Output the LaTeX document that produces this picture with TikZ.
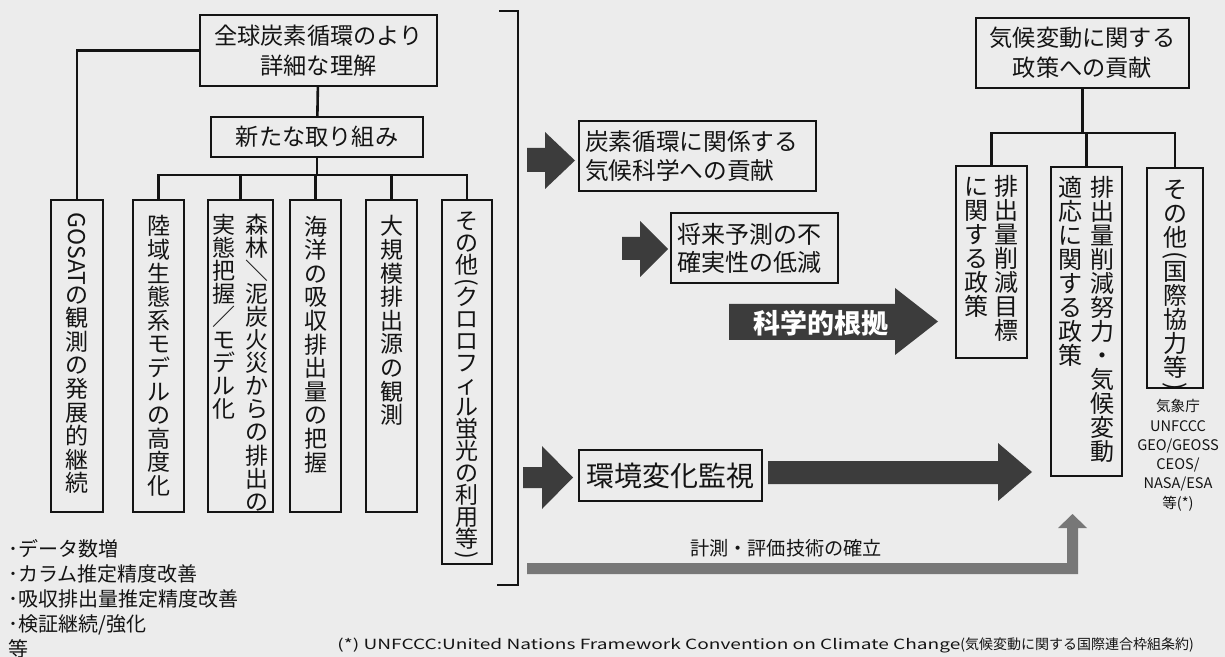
\documentclass[tikz,border=0pt]{standalone}
\usepackage{fontspec}
\setmainfont{Noto Sans CJK JP}
\usepackage{graphicx}
\usetikzlibrary{calc}
\definecolor{bgc}{HTML}{ECECEC}
\definecolor{arr}{HTML}{3C3C3C}
\definecolor{barc}{HTML}{777777}
\definecolor{ink}{HTML}{141414}
\makeatletter
\newlength\vcw
\newlength\vpitch
\setlength\vpitch{11.8pt}
\def\vst@end{\vst@end}
\def\vsk{\vsk}
\def\vstack#1{\vtop{\vcw=1.05em\baselineskip=\vpitch\lineskip=0.5pt\lineskiplimit=0pt\vst@ck#1\vst@end}}
\def\vst@ck#1{\ifx#1\vst@end\expandafter\@gobble\else\expandafter\@firstofone\fi{\vst@item#1\vst@ck}}
\def\vst@item#1{\ifx#1\vsk\vskip-0.28\vpitch\else\hbox to\vcw{\hss#1\hss}\fi}
\makeatother
\newcommand\gosat{\rotatebox[origin=c]{-90}{GOSAT}}
\newcommand\vlp{\rotatebox[origin=c]{-90}{(}}
\newcommand\vrp{\rotatebox[origin=c]{-90}{)}}
\begin{document}
\begin{tikzpicture}[x=0.5pt,y=-0.5pt,
  box/.style={draw=ink, line width=0.7pt, inner sep=0pt, rectangle},
  conn/.style={draw=ink, line width=1.3pt},
  hfont/.style={font=\fontsize{11.6}{14.8}\selectfont},
  vfont/.style={font=\fontsize{11.5}{11.8}\selectfont, inner sep=0pt, text=ink},
  rfont/.style={font=\fontsize{12}{12.3}\selectfont, inner sep=0pt, text=ink},
  blk/.style={fill=arr},
  col/.style={box, minimum height=156pt}]
\fill[bgc] (0,0) rectangle (1225,657);
\useasboundingbox (0,0) rectangle (1225,657);

% ---- left tree ----
\node[box, hfont, text=ink, minimum width=118.5pt, minimum height=35.5pt, align=center] (top) at (318.5,50.5) {全球炭素循環のより\\詳細な理解};
\node[box, hfont, text=ink, minimum width=106pt, minimum height=20pt] (new) at (317,137) {新たな取り組み};

\node[col, minimum width=26pt] (c0) at (77,356) {};
\node[col, minimum width=25.5pt] (c1) at (158.5,356) {};
\node[col, minimum width=32.5pt] (c2) at (240.5,356) {};
\node[col, minimum width=25.5pt] (c3) at (315.5,356) {};
\node[col, minimum width=25.5pt] (c4) at (391.5,356) {};
\node[box, minimum width=25pt, minimum height=182pt] (c5) at (467,382) {};

\node[vfont, anchor=north, yshift=-6.5pt] (t0) at (c0.north) {\vstack{\gosat の観測の発展的継続}};
\node[vfont, anchor=north, yshift=-8pt] (t1) at (c1.north) {\vstack{陸域生態系モデルの高度化}};
\node[vfont, anchor=north, yshift=-8pt] (t3) at (c3.north) {\vstack{海洋の吸収排出量の把握}};
\node[vfont, anchor=north, yshift=-8pt] (t4) at (c4.north) {\vstack{大規模排出源の観測}};
\setlength\vpitch{11.55pt}
\node[vfont, anchor=north, yshift=-7pt] (t2) at (c2.north) {\hbox{\vstack{実態把握／モデル化}\hskip4.5pt\vstack{森林＼泥炭火災からの排出の}}};
\setlength\vpitch{11pt}
\node[vfont, anchor=north, yshift=-6pt] (t5) at (c5.north) {\vstack{その他\vsk\vlp\vsk クロロフィル蛍光の利用等\vsk\vrp}};

\coordinate (bus) at (317,175);
\draw[conn] (top) -- (new);
\draw[conn] (new) -- (new |- bus);
\draw[conn] (c1.north) -- (c1.north |- bus) -- (c5.north |- bus) -- (c5.north);
\foreach \n in {c2,c3,c4} \draw[conn] (\n.north) -- (\n.north |- bus);
\draw[conn] (top.west) -| (c0.north);

% bracket
\draw[ink, line width=0.6pt] (499,11) -- (518,11) -- (518,585) -- (497,585);

% left list
\node[align=left, anchor=north west, inner sep=0pt, text=ink, font=\fontsize{10}{12.5}\selectfont] (list) at (8,539) {･データ数増\\･カラム推定精度改善\\･吸収排出量推定精度改善\\･検証継続/強化\\等};

% ---- middle ----
\fill[blk] (527,148) -- (545,148) -- (545,132) -- (575,160.5) -- (545,189) -- (545,172) -- (527,172) -- cycle;
\node[box, text=ink, font=\fontsize{11.85}{14.5}\selectfont, text width=112.5pt, inner sep=3pt, minimum height=35pt, align=left] (cc) at (697.5,156) {炭素循環に関係する\\気候科学への貢献};

\fill[blk] (622,237) -- (640,237) -- (640,221) -- (668,249) -- (640,277) -- (640,260) -- (622,260) -- cycle;
\node[box, text=ink, font=\fontsize{12}{14}\selectfont, text width=77.5pt, inner sep=3pt, minimum height=35pt, align=left] (ff) at (754.5,248) {将来予測の不\\確実性の低減};

\fill[blk] (729,304) -- (895,304) -- (895,288) -- (938,321.5) -- (895,355) -- (895,340) -- (729,340) -- cycle;
\node[text=white, font=\fontsize{13.5}{14}\selectfont\bfseries] (sci) at (821,323) {科学的根拠};

\fill[blk] (523,467) -- (542,467) -- (542,446) -- (573,477.5) -- (542,509) -- (542,488) -- (523,488) -- cycle;
\node[box, text=ink, font=\fontsize{14}{16}\selectfont, minimum width=91.5pt, minimum height=25.5pt] (env) at (670.5,475.5) {環境変化監視};

\fill[blk] (768,461) -- (998,461) -- (998,443) -- (1032,472) -- (998,501) -- (998,484) -- (768,484) -- cycle;

\fill[barc] (527,563) -- (1067,563) -- (1067,528) -- (1058,528) -- (1072.5,514) -- (1087,528) -- (1078,528) -- (1078,574) -- (527,574) -- cycle;
\node[text=ink, font=\fontsize{9.6}{10}\selectfont] (meas) at (786,548) {計測・評価技術の確立};

% ---- right tree ----
\node[box, hfont, text=ink, minimum width=106.5pt, minimum height=35pt, align=center] (rtop) at (1082.5,53) {気候変動に関する\\政策への貢献};
\node[box, minimum width=35.5pt, minimum height=96pt] (r1) at (991.5,262) {};
\node[box, minimum width=35.5pt, minimum height=154.5pt] (r2) at (1086.5,321.5) {};
\node[box, minimum width=28pt, minimum height=110pt] (r3) at (1175,278) {};
\setlength\vpitch{12pt}
\node[rfont, anchor=north, yshift=-5pt] (u1) at (r1.north) {\hbox{\vstack{に関する政策}\hskip2pt\vstack{排出量削減目標}}};
\node[rfont, anchor=north, yshift=-5pt] (u2) at (r2.north) {\hbox{\vstack{適応に関する政策}\hskip3pt\vstack{排出量削減努力・気候変動}}};
\node[rfont, anchor=north, yshift=-6pt] (u3) at (r3.north) {\vstack{その他\vsk\vlp\vsk 国際協力等\vsk\vrp}};

\coordinate (rbus) at (1083,133);
\draw[conn] (rtop) -- (rtop.south |- rbus);
\draw[conn] (r1.north) -- (r1.north |- rbus) -- (r3.north |- rbus) -- (r3.north);
\draw[conn] (r2.north) -- (r2.north |- rbus);

\node[align=center, anchor=north, inner sep=0pt, text=ink, font=\fontsize{7.3}{9.65}\selectfont] (orgs) at (1178,399) {気象庁\\UNFCCC\\GEO/GEOSS\\CEOS/\\NASA/ESA\\等(*)};

% footnote
\node[anchor=west, inner sep=0pt, text=ink, font=\fontsize{7}{8}\selectfont] (fn) at (337,645) {\resizebox{311.5pt}{\height}{(*) UNFCCC:United Nations Framework Convention on Climate Change}(気候変動に関する国際連合枠組条約)};
\end{tikzpicture}
\end{document}
